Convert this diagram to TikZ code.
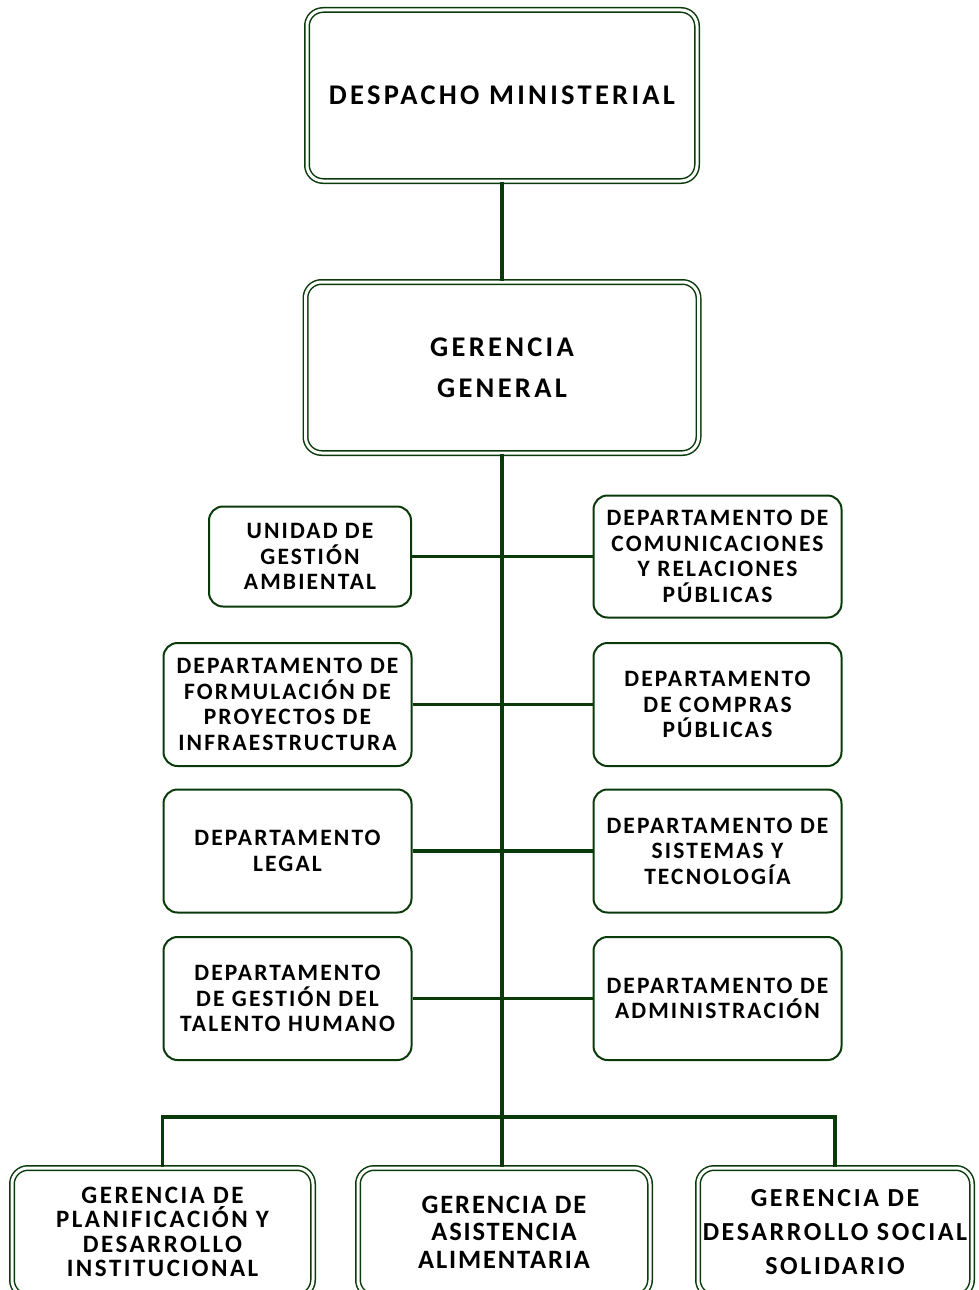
\documentclass[tikz,border=0pt]{standalone}
\usepackage{fontspec}
\setmainfont{Carlito}
\usepackage{tikz}
\usetikzlibrary{positioning,calc}
\definecolor{green1}{HTML}{0A3A0A}
\newcommand\chartfont[3]{\bfseries\addfontfeatures{LetterSpace=#3}\fontsize{#1}{#2}\selectfont}

\begin{document}
\begin{tikzpicture}[
    x=1pt, y=-1pt,
    headbox/.style={draw=green1, double=white, double distance=3pt,
                    line width=1.5pt, rounded corners=16pt,
                    align=center, inner sep=2pt,
                    font=\chartfont{28.5}{41}{11.5}},
    deptbox/.style={draw=green1, line width=2pt, rounded corners=14pt,
                    align=center, inner sep=2pt,
                    minimum width=248pt, minimum height=123pt,
                    font=\chartfont{23.5}{25.5}{9}},
    link/.style={draw=green1, line width=3.6pt},
]
\useasboundingbox (0,0) rectangle (979,1290);
\clip (0,0) rectangle (979,1290);

% top of the chart
\node[headbox, minimum width=390pt, minimum height=171pt]
    (despacho) at (502,95.5) {DESPACHO MINISTERIAL};
\node[headbox, minimum width=393pt, minimum height=171pt]
    (gerencia) at (502,367.5) {GERENCIA\\GENERAL};

% left column
\node[deptbox, minimum width=202pt, minimum height=100pt]
    (unidad) at (310,556.5) {UNIDAD DE\\GESTIÓN\\AMBIENTAL};
\node[deptbox] (formul) at (287.5,704.5)
    {DEPARTAMENTO DE\\FORMULACIÓN DE\\PROYECTOS DE\\INFRAESTRUCTURA};
\node[deptbox] (legal) at (287.5,851) {DEPARTAMENTO\\LEGAL};
\node[deptbox] (talento) at (287.5,998.5)
    {DEPARTAMENTO\\DE GESTIÓN DEL\\TALENTO HUMANO};

% right column
\node[deptbox, minimum height=122pt] (comunic) at (717.5,556.5)
    {DEPARTAMENTO DE\\COMUNICACIONES\\Y RELACIONES\\PÚBLICAS};
\node[deptbox] (compras) at (717.5,704.5)
    {DEPARTAMENTO\\DE COMPRAS\\PÚBLICAS};
\node[deptbox] (sistemas) at (717.5,851)
    {DEPARTAMENTO DE\\SISTEMAS Y\\TECNOLOGÍA};
\node[deptbox] (admin) at (717.5,998.5)
    {DEPARTAMENTO DE\\ADMINISTRACIÓN};

% bottom row
\node[headbox, minimum width=301pt, minimum height=128pt,
      font=\chartfont{25}{24.5}{10}]
    (planif) at (162.5,1232)
    {GERENCIA DE\\PLANIFICACIÓN Y\\DESARROLLO\\INSTITUCIONAL};
\node[headbox, minimum width=292pt, minimum height=128pt,
      font=\chartfont{26.5}{27.5}{7}]
    (asist) at (504,1232) {GERENCIA DE\\ASISTENCIA\\ALIMENTARIA};
\node[headbox, minimum width=274pt, minimum height=128pt,
      font=\chartfont{26}{34}{10}]
    (desarr) at (835,1232)
    {GERENCIA DE\\DESARROLLO SOCIAL\\SOLIDARIO};

\coordinate (hub) at (502,1117);

% connectors
\draw[link] (despacho) -- (gerencia);
\draw[link] (gerencia.south) -- (hub);
\draw[link] (unidad) -- (comunic);
\draw[link] (formul) -- (compras);
\draw[link] (legal) -- (sistemas);
\draw[link] (talento) -- (admin);
\draw[link] (planif.north) |- (hub) -| (desarr.north);
\draw[link] (hub) -- (hub |- asist.north);
\end{tikzpicture}
\end{document}
